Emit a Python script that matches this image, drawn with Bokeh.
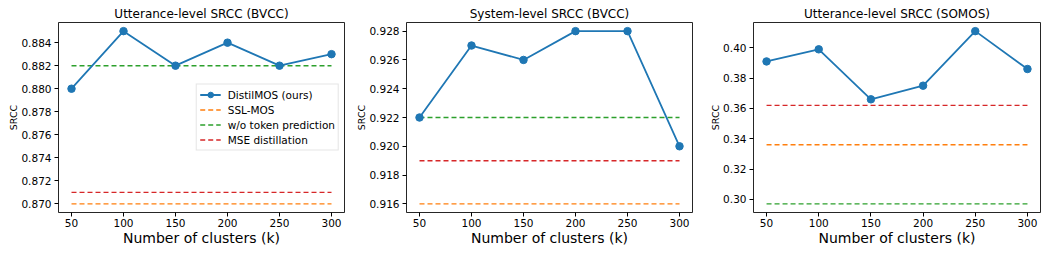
from bokeh.plotting import figure
from bokeh.layouts import row
from bokeh.models import Range1d, FixedTicker, Legend, LegendItem, PrintfTickFormatter
from bokeh.embed import file_html
from bokeh.resources import INLINE

# ---- data ----
clusters = [50, 100, 150, 200, 250, 300]

titles = ["Utterance-level SRCC (BVCC)", "System-level SRCC (BVCC)", "Utterance-level SRCC (SOMOS)"]

distilmos_utt_bvcc = [0.880, 0.885, 0.882, 0.884, 0.882, 0.883]
distilmos_sys_bvcc = [0.922, 0.927, 0.926, 0.928, 0.928, 0.920]
distilmos_utt_somos = [0.391, 0.399, 0.366, 0.375, 0.411, 0.386]

sslmos = [0.870, 0.916, 0.336]
wo_token = [0.882, 0.922, 0.297]
mse_distill = [0.871, 0.919, 0.362]

yticks_utt_bvcc = [0.870, 0.872, 0.874, 0.876, 0.878, 0.880, 0.882, 0.884]
yticks_sys_bvcc = [0.916, 0.918, 0.920, 0.922, 0.924, 0.926, 0.928]
yticks_utt_somos = [0.30, 0.32, 0.34, 0.36, 0.38, 0.40]
ytick_formats = ["%.3f", "%.3f", "%.2f"]

series_names = ["DistilMOS (ours)", "SSL-MOS", "w/o token prediction", "MSE distillation"]

# ---- style ----
BLUE, ORANGE, GREEN, RED = "#1f77b4", "#ff7f0e", "#2ca02c", "#d62728"
FONT = "DejaVu Sans"

distil_all = [distilmos_utt_bvcc, distilmos_sys_bvcc, distilmos_utt_somos]
yticks_all = [yticks_utt_bvcc, yticks_sys_bvcc, yticks_utt_somos]

geo = [
    dict(width=353, left=58, right=9),
    dict(width=349, left=51, right=10),
    dict(width=346, left=51, right=8),
]
HEIGHT = 255
TOP = 22
BOTTOM = 43


def make(i):
    g = geo[i]
    vals = distil_all[i]
    base = [sslmos[i], wo_token[i], mse_distill[i]]
    all_vals = vals + base
    lo, hi = min(all_vals), max(all_vals)
    pad = (hi - lo) * 0.05
    xlo, xhi = min(clusters), max(clusters)
    xpad = (xhi - xlo) * 0.05

    p = figure(width=g["width"], height=HEIGHT, output_backend="svg", toolbar_location=None,
               min_border_left=g["left"], min_border_right=g["right"],
               min_border_top=TOP, min_border_bottom=BOTTOM,
               x_range=Range1d(xlo - xpad, xhi + xpad), y_range=Range1d(lo - pad, hi + pad))
    p.title.text = titles[i]
    p.title.align = "center"
    p.title.text_font = FONT
    p.title.text_font_size = "12px"
    p.title.text_font_style = "normal"
    p.title.text_color = "#000000"
    p.title.standoff = 3
    p.title.offset = 0

    p.xgrid.visible = False
    p.ygrid.visible = False
    p.outline_line_color = "#000000"
    p.outline_line_width = 1
    p.outline_line_alpha = 0.85
    p.background_fill_color = "white"
    p.border_fill_color = "white"

    for ax in (p.xaxis[0], p.yaxis[0]):
        ax.axis_line_color = None
        ax.major_tick_line_color = "#000000"
        ax.major_tick_out = 4
        ax.major_tick_in = 0
        ax.minor_tick_line_color = None
        ax.major_label_text_font = FONT
        ax.major_label_text_font_size = "10.5px"
        ax.major_label_text_color = "#000000"
        ax.axis_label_text_font = FONT
        ax.axis_label_text_font_style = "normal"
        ax.axis_label_text_color = "#000000"

    p.xaxis.ticker = FixedTicker(ticks=clusters)
    p.xaxis.axis_label = "Number of clusters (k)"
    p.xaxis.axis_label_text_font_size = "14px"
    p.xaxis.axis_label_standoff = 0
    p.xaxis.major_label_standoff = 2

    p.yaxis.ticker = FixedTicker(ticks=yticks_all[i])
    p.yaxis.formatter = PrintfTickFormatter(format=ytick_formats[i])
    p.yaxis.axis_label = "SRCC"
    p.yaxis.axis_label_text_font_size = "9.5px"
    p.yaxis.axis_label_standoff = -1
    p.yaxis.major_label_standoff = 3

    r_ssl = p.line(clusters, [sslmos[i]] * len(clusters), line_color=ORANGE, line_width=1.4, line_dash="5 3")
    r_wo = p.line(clusters, [wo_token[i]] * len(clusters), line_color=GREEN, line_width=1.4, line_dash="5 3")
    r_mse = p.line(clusters, [mse_distill[i]] * len(clusters), line_color=RED, line_width=1.4, line_dash="5 3")
    r_line = p.line(clusters, vals, line_color=BLUE, line_width=1.8)
    r_pts = p.scatter(clusters, vals, size=7.5, fill_color=BLUE, line_color=BLUE)

    if i == 0:
        legend = Legend(items=[
            LegendItem(label=series_names[0], renderers=[r_line, r_pts]),
            LegendItem(label=series_names[1], renderers=[r_ssl]),
            LegendItem(label=series_names[2], renderers=[r_wo]),
            LegendItem(label=series_names[3], renderers=[r_mse]),
        ], location="center_right")
        legend.margin = 5
        legend.padding = 3
        legend.spacing = 1
        legend.glyph_height = 14
        legend.glyph_width = 21
        legend.label_height = 14
        legend.label_standoff = 7
        legend.label_text_font = FONT
        legend.label_text_font_size = "10.5px"
        legend.label_text_color = "#000000"
        legend.border_line_color = "#cccccc"
        legend.border_line_width = 1
        legend.background_fill_alpha = 0.8
        p.add_layout(legend, "center")
    return p


plots = [make(i) for i in range(3)]
layout = row(*plots, spacing=0)

open("out.html", "w").write(file_html(layout, INLINE))
